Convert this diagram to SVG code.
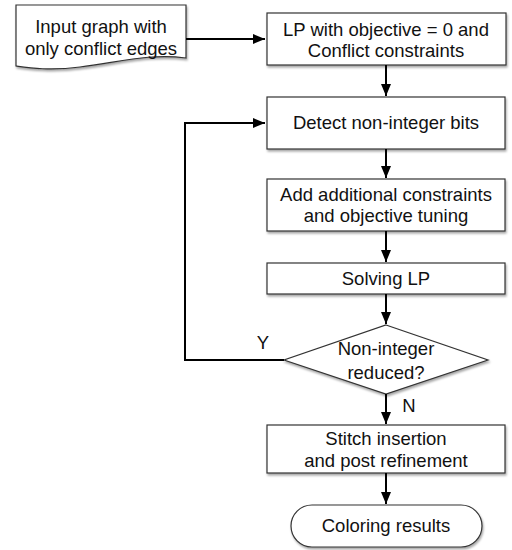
<svg xmlns="http://www.w3.org/2000/svg" width="512" height="550" viewBox="0 0 512 550">
<defs>
<marker id="ah" viewBox="0 0 12 10" refX="12" refY="5" markerWidth="12" markerHeight="10" markerUnits="userSpaceOnUse" orient="auto"><path d="M0,0 L12,5 L0,10 Z" fill="#000"/></marker>
<filter id="sh" x="-10%" y="-10%" width="120%" height="130%"><feDropShadow dx="1" dy="2" stdDeviation="1.2" flood-color="#000" flood-opacity="0.35"/></filter>
<style>
.n{fill:#fff;stroke:#333;stroke-width:1.2;filter:url(#sh)}
.t{font-family:"Liberation Sans",Arial,sans-serif;font-size:18.5px;fill:#111;text-anchor:middle}
.c{fill:none;stroke:#000;stroke-width:2;marker-end:url(#ah)}
</style>
</defs>
<rect width="512" height="550" fill="#fff"/>
<g id="input">
<path class="n" d="M16,5 H186 V58 C150,53 120,62 80,67 C50,71 30,68 16,66 Z"/>
<text class="t" x="101" y="33">Input graph with</text>
<text class="t" x="101" y="55">only conflict edges</text>
</g>
<g id="lp">
<rect class="n" x="267" y="13" width="239" height="52"/>
<text class="t" x="386" y="36">LP with objective = 0 and</text>
<text class="t" x="386" y="57">Conflict constraints</text>
</g>
<g id="detect">
<rect class="n" x="267" y="97" width="238" height="52"/>
<text class="t" x="386" y="129">Detect non-integer bits</text>
</g>
<g id="add">
<rect class="n" x="267" y="179" width="238" height="52"/>
<text class="t" x="386" y="201">Add additional constraints</text>
<text class="t" x="386" y="222">and objective tuning</text>
</g>
<g id="solve">
<rect class="n" x="267" y="263" width="238" height="31"/>
<text class="t" x="386" y="285">Solving LP</text>
</g>
<g id="decision">
<path class="n" d="M386,325 L488,360 L386,394 L284,360 Z"/>
<text class="t" x="386" y="355">Non-integer</text>
<text class="t" x="386" y="379">reduced?</text>
</g>
<g id="stitch">
<rect class="n" x="267" y="425" width="238" height="48"/>
<text class="t" x="386" y="445">Stitch insertion</text>
<text class="t" x="386" y="467">and post refinement</text>
</g>
<g id="result">
<rect class="n" x="291" y="505" width="191" height="42" rx="21" ry="21"/>
<text class="t" x="386" y="532">Coloring results</text>
</g>
<g id="connectors">
<path class="c" d="M186,39 H265"/>
<path class="c" d="M386,65 V96"/>
<path class="c" d="M386,149 V178"/>
<path class="c" d="M386,231 V262"/>
<path class="c" d="M386,294 V324"/>
<path class="c" d="M284,360 H185 V123 H265"/>
<path class="c" d="M386,394 V424"/>
<path class="c" d="M386,473 V504"/>
<text class="t" x="263" y="349">Y</text>
<text class="t" x="409" y="412">N</text>
</g>
</svg>
